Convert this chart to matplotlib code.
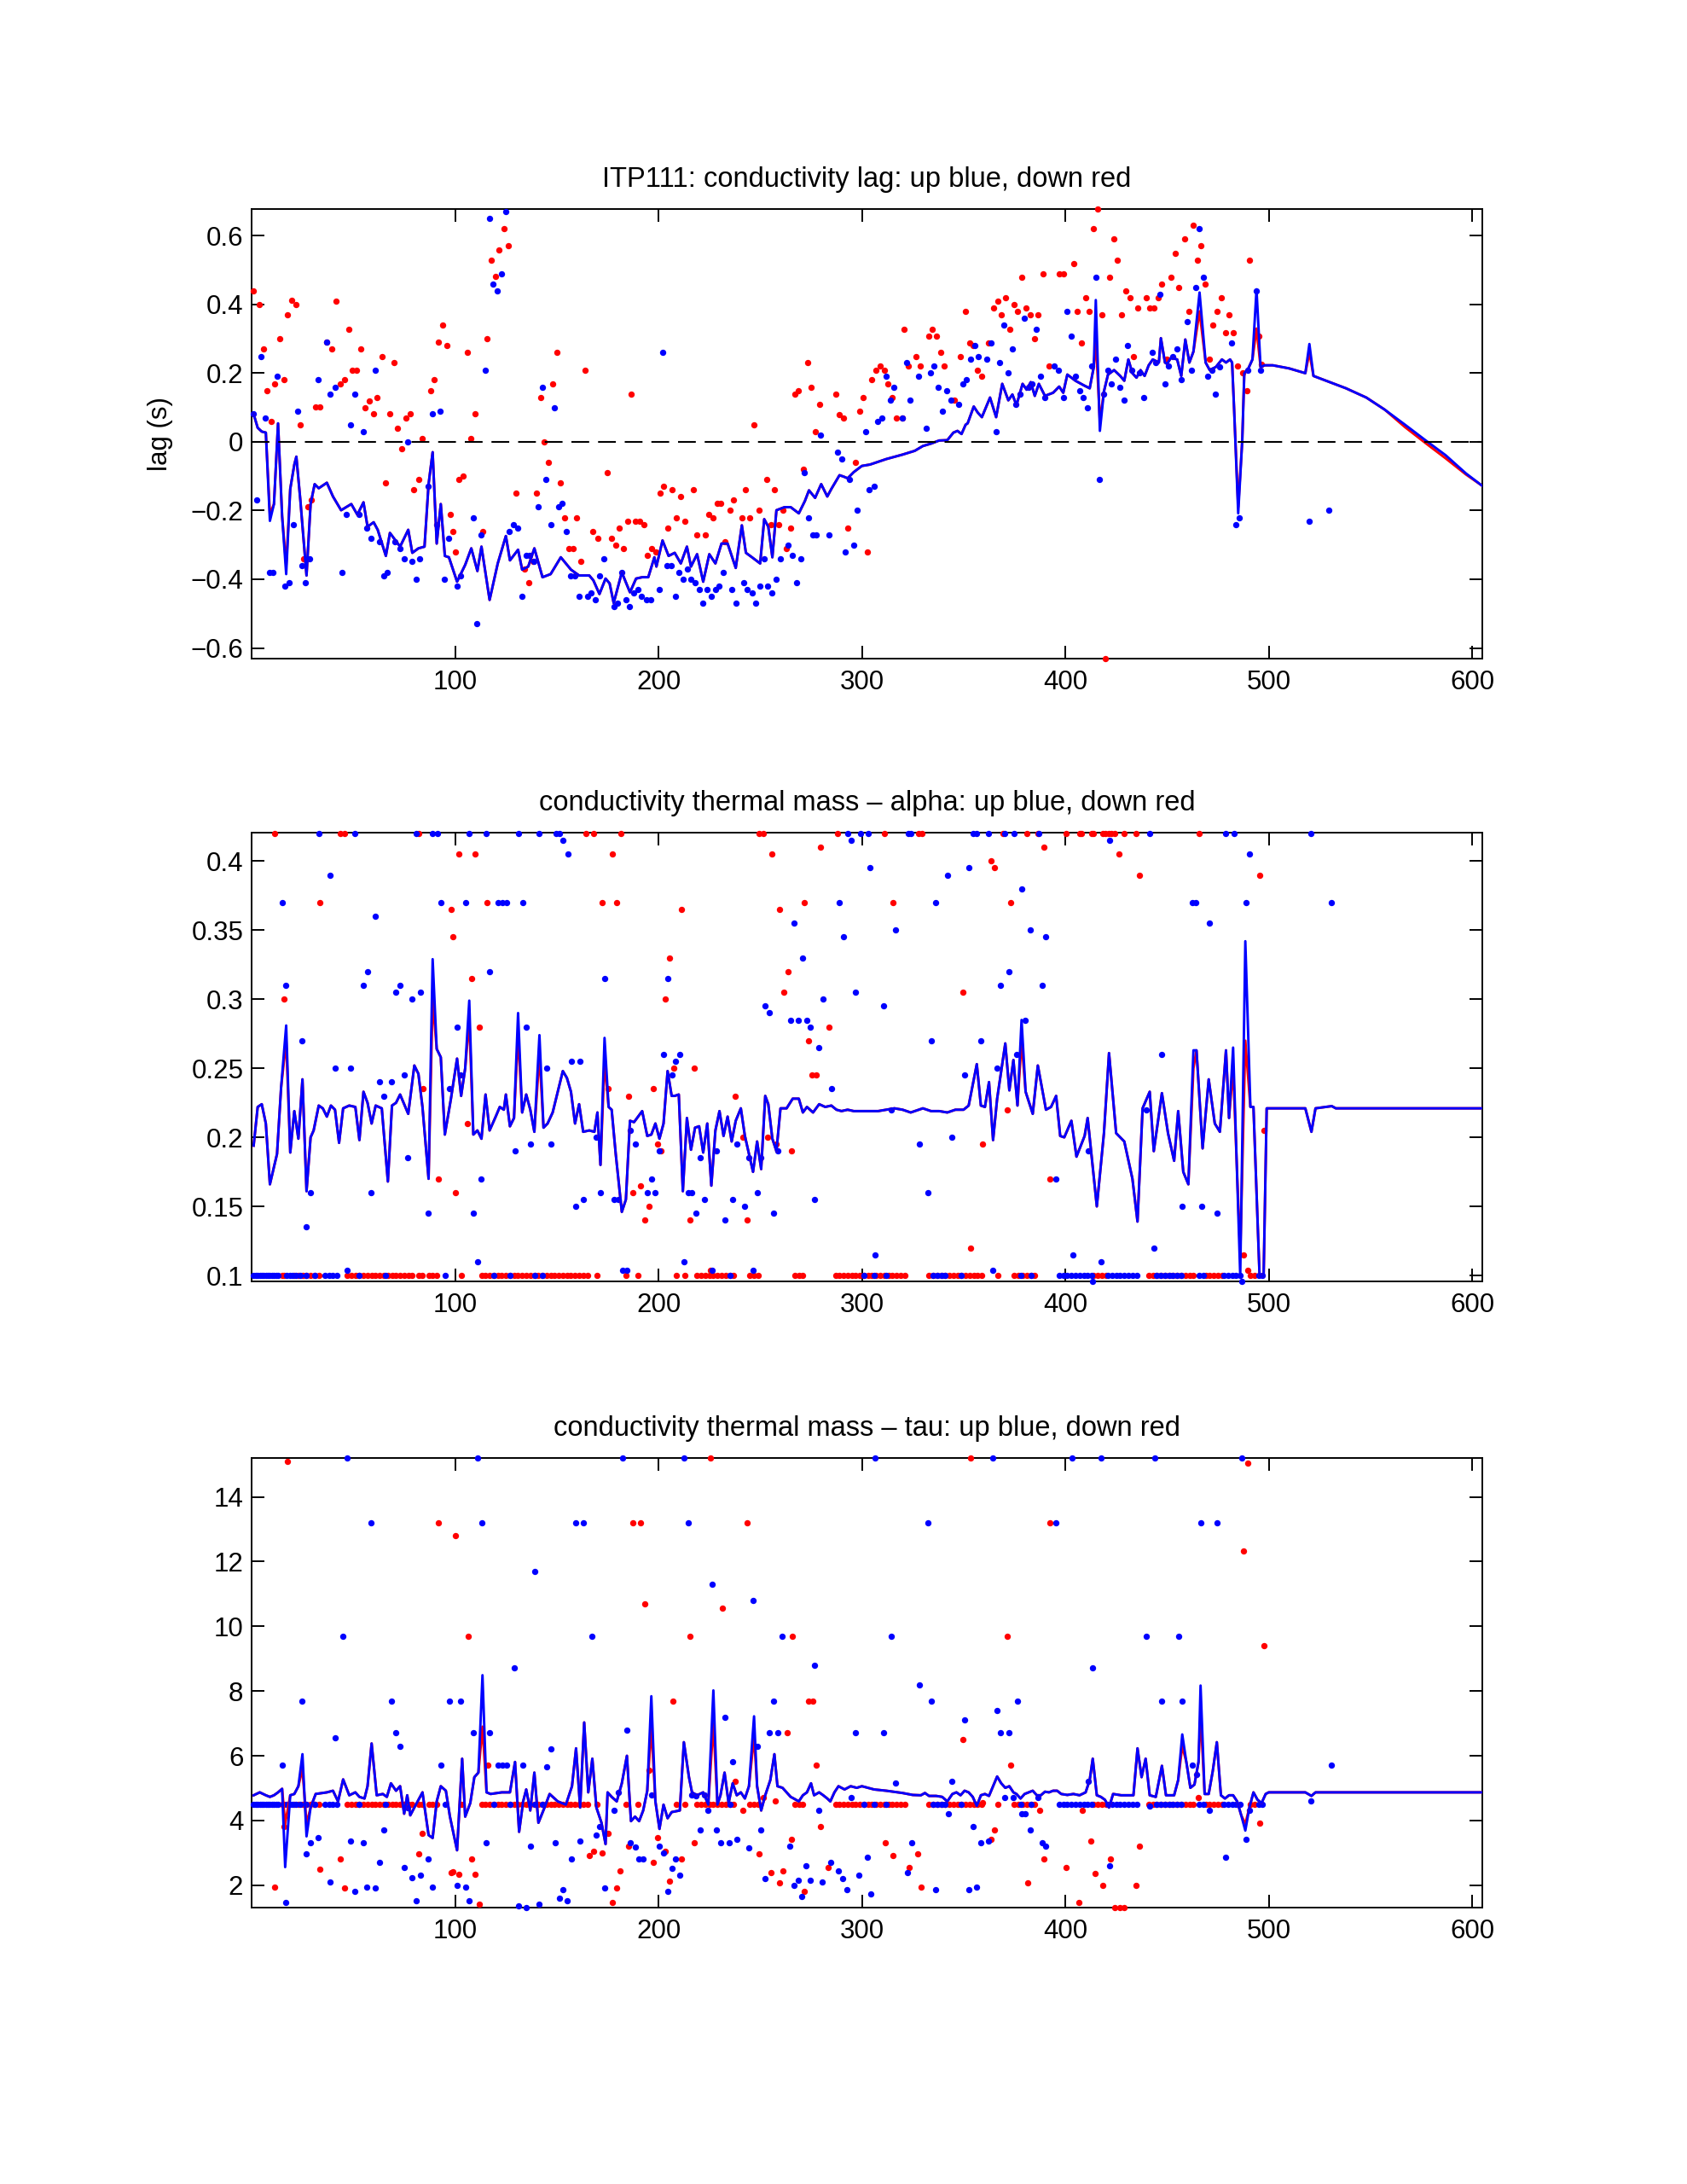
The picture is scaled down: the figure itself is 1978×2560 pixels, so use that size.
import matplotlib
matplotlib.use('Agg')
import matplotlib.pyplot as plt

plt.rcParams['font.family'] = ['Liberation Sans', 'DejaVu Sans']
FS = 22.5
FS_TITLE = 23.5

# ---------------- data ----------------
profiles_ticks = [100, 200, 300, 400, 500, 600]

lag_up_line = [(1,0.081),(3,0.041),(5,0.030),(7,0.027),(9,-0.230),(11,-0.181),(13,0.054),(15,-0.216),(17,-0.385),(19,-0.137),(21,-0.066),(22,-0.043),(24,-0.172),(27,-0.389),(29,-0.181),(31,-0.123),(33,-0.135),(37,-0.119),(40,-0.159),(44,-0.199),(49,-0.181),(52,-0.212),(55,-0.176),(57,-0.247),(60,-0.234),(62,-0.256),(66,-0.332),(68,-0.265),(73,-0.305),(77,-0.256),(79,-0.323),(82,-0.310),(85,-0.305),(87,-0.123),(89,-0.030),(91,-0.296),(93,-0.181),(95,-0.332),(97,-0.336),(101,-0.407),(105,-0.358),(108,-0.310),(111,-0.376),(113,-0.305),(117,-0.460),(121,-0.354),(125,-0.274),(127,-0.345),(131,-0.314),(133,-0.372),(136,-0.363),(139,-0.310),(143,-0.394),(147,-0.385),(152,-0.336),(157,-0.372),(161,-0.389),(166,-0.389),(168,-0.403),(171,-0.443),(174,-0.398),(176,-0.412),(178,-0.469),(182,-0.380),(186,-0.438),(189,-0.398),(192,-0.394),(195,-0.394),(198,-0.336),(199,-0.363),(202,-0.287),(205,-0.332),(208,-0.323),(211,-0.354),(214,-0.305),(216,-0.363),(219,-0.327),(222,-0.407),(225,-0.327),(228,-0.354),(231,-0.296),(234,-0.296),(238,-0.367),(241,-0.243),(243,-0.323),(246,-0.336),(250,-0.354),(252,-0.225),(254,-0.247),(256,-0.336),(258,-0.199),(262,-0.190),(265,-0.190),(269,-0.208),(272,-0.172),(274,-0.141),(277,-0.163),(280,-0.123),(283,-0.159),(285,-0.137),(289,-0.097),(291,-0.101),(293,-0.106),(296,-0.088),(300,-0.070),(304,-0.066),(312,-0.050),(320,-0.037),(326,-0.026),(330,-0.012),(334,-0.005),(338,0.004),(342,0.005),(345,0.027),(347,0.032),(349,0.023),(351,0.050),(352,0.054),(355,0.103),(357,0.085),(359,0.072),(363,0.129),(366,0.072),(369,0.169),(372,0.121),(374,0.138),(376,0.107),(379,0.169),(381,0.152),(383,0.174),(385,0.134),(387,0.169),(390,0.134),(394,0.143),(397,0.161),(399,0.143),(401,0.196),(405,0.178),(409,0.165),(412,0.156),(414,0.218),(415,0.413),(417,0.032),(419,0.147),(421,0.196),(424,0.209),(427,0.192),(429,0.178),(431,0.240),(433,0.200),(435,0.187),(437,0.209),(439,0.192),(441,0.223),(443,0.240),(446,0.231),(447,0.302),(449,0.231),(450,0.227),(452,0.245),(455,0.240),(457,0.192),(459,0.298),(461,0.231),(463,0.263),(466,0.435),(469,0.231),(471,0.209),(474,0.218),(477,0.240),(479,0.231),(481,0.240),(482,0.231),(483,0.094),(485,-0.208),(487,0.005),(488,0.200),(490,0.214),(492,0.240),(494,0.444),(496,0.218),(498,0.223),(502,0.223),(510,0.214),(518,0.200),(520,0.285),(522,0.192),(530,0.174),(538,0.156),(548,0.129),(557,0.094),(567,0.050),(577,0.005),(587,-0.039),(597,-0.092),(605,-0.128)]
lag_down_line_changes = [(9,-0.21),(17,-0.36),(415,0.30),(417,0.06),(466,0.38),(485,-0.19),(494,0.33),(520,0.26),(567,0.043),(577,-0.003),(587,-0.048),(597,-0.095)]

lag_down_pts = [(1,0.440),(3.7,0.400),(5.7,0.271),(7.6,0.150),(9.6,0.060),(11.5,0.169),(13.9,0.301),(15.9,0.180),(17.8,0.371),(19.8,0.411),(21.7,0.400),(23.7,0.050),(25.6,-0.341),(27.6,-0.190),(29.5,-0.169),(31.5,0.101),(33.5,0.101),(37,0.290),(39.5,0.270),(41.7,0.409),(43.8,0.169),(45.8,0.180),(47.7,0.329),(49.3,0.209),(51.7,0.209),(53.8,0.270),(55.8,0.100),(57.9,0.120),(60.1,0.081),(61.8,0.129),(64,0.249),(66,-0.120),(67.9,0.081),(69.9,0.230),(71.8,0.040),(74,-0.020),(75.9,0.070),(77.9,0.081),(79.8,-0.140),(82,-0.110),(84,0.010),(87.9,0.150),(89.8,0.180),(92,0.290),(93.9,0.340),(95.9,0.280),(97.8,-0.210),(99,-0.260),(100,-0.320),(102,-0.110),(103.9,-0.099),(105.9,0.260),(107.8,0.010),(109.8,0.081),(113.7,-0.260),(115.9,0.301),(117.8,0.530),(119.8,0.481),(121.7,0.560),(123.9,0.620),(126,0.570),(130.1,-0.150),(134.2,-0.371),(136.2,-0.410),(138.2,-0.349),(140.1,-0.150),(142.1,0.129),(144,0.000),(146,-0.060),(147.9,0.170),(149.9,0.260),(151.9,-0.120),(153.8,-0.220),(156,-0.310),(157.9,-0.310),(159.9,-0.220),(161.8,-0.349),(163.8,0.209),(167.7,-0.260),(170.1,-0.280),(174.9,-0.090),(176.9,-0.280),(178.9,-0.300),(180.8,-0.250),(182.8,-0.310),(184.7,-0.230),(186.7,0.139),(188.8,-0.230),(190.8,-0.230),(192.8,-0.240),(194.7,-0.330),(196.7,-0.310),(198.6,-0.320),(200.8,-0.150),(202.7,-0.130),(204.7,-0.250),(206.7,-0.140),(209,-0.220),(211,-0.160),(212.9,-0.230),(217,-0.140),(219,-0.270),(222.9,-0.270),(224.9,-0.210),(226.8,-0.220),(228.8,-0.180),(230.7,-0.180),(232.7,-0.290),(235,-0.200),(237,-0.169),(240.9,-0.220),(242.9,-0.140),(244.8,-0.220),(246.8,0.050),(249.3,-0.200),(253.2,-0.110),(255.2,-0.240),(257.1,-0.140),(259.1,-0.240),(261.1,-0.200),(263,-0.310),(265,-0.250),(266.9,0.140),(268.9,0.150),(271.2,-0.080),(273.2,0.230),(275.1,0.160),(277.1,0.030),(279.1,0.110),(287.1,0.140),(289,0.080),(291,0.070),(293,-0.250),(296.9,-0.060),(298.8,0.090),(300.8,0.129),(302.7,-0.320),(304.7,0.180),(306.9,0.209),(308.9,0.220),(310.9,0.209),(312.9,0.169),(314.9,0.129),(316.8,0.070),(319.8,0.070),(320.8,0.329),(322.8,0.220),(326.7,0.249),(328.7,0.220),(332.7,0.309),(334.7,0.329),(336.6,0.309),(338.6,0.260),(340.6,0.220),(345.5,0.121),(348.5,0.249),(350.9,0.380),(352.9,0.289),(354.9,0.280),(356.8,0.209),(358.8,0.190),(362.4,0.289),(364.8,0.389),(366.7,0.409),(368.7,0.369),(370.7,0.420),(372.7,0.329),(374.7,0.400),(376.6,0.380),(378.6,0.480),(380.6,0.389),(382.6,0.369),(385,0.300),(386.5,0.369),(388.9,0.490),(392.1,0.220),(397,0.490),(399,0.490),(404,0.520),(405.9,0.380),(407.9,0.289),(409.9,0.420),(411.9,0.380),(413.9,0.620),(415.8,0.679),(417.8,0.369),(419.8,-0.631),(421.8,0.480),(423.8,0.591),(425.7,0.530),(427.7,0.369),(429.7,0.440),(431.7,0.420),(433.7,0.249),(435.6,0.389),(439.6,0.420),(441.6,0.389),(443.6,0.389),(445.5,0.420),(447.5,0.459),(449.9,0.240),(451.9,0.480),(453.9,0.550),(455.8,0.450),(458.8,0.591),(460.8,0.380),(462.8,0.630),(464.8,0.530),(466.7,0.570),(468.7,0.459),(470.7,0.240),(472.7,0.340),(474.7,0.380),(476.6,0.420),(478.6,0.319),(480.6,0.369),(482.6,0.319),(484.6,0.220),(487.1,0.200),(489.1,0.150),(490.7,0.530),(495,0.309),(496.4,0.227)]

lag_up_pts = [(1,0.081),(2.7,-0.170),(4.7,0.249),(6.7,0.070),(8.6,-0.380),(10.6,-0.380),(12.5,0.190),(16.4,-0.420),(18.4,-0.410),(20.7,-0.240),(22.7,0.090),(24.7,-0.360),(26.6,-0.410),(28.6,-0.341),(32.9,0.180),(37,0.290),(38.7,0.139),(40.9,0.160),(44.6,-0.380),(46.6,-0.210),(48.7,0.050),(50.7,0.139),(52.8,-0.210),(54.8,0.030),(56.8,-0.250),(58.7,-0.280),(60.9,0.209),(62.8,-0.290),(64.8,-0.390),(66.7,-0.380),(70.6,-0.290),(73,-0.310),(75,-0.341),(76.7,0.000),(78.9,-0.349),(81,-0.400),(82.8,-0.341),(86.9,-0.130),(88.8,0.081),(90.8,-0.240),(92.8,0.090),(94.7,-0.400),(96.7,-0.280),(101,-0.420),(102.9,-0.390),(108.8,-0.220),(110.8,-0.530),(112.7,-0.270),(114.9,0.209),(116.8,0.650),(118.8,0.460),(120.7,0.440),(122.9,0.490),(124.9,0.670),(126.8,-0.260),(128.8,-0.240),(130.9,-0.250),(132.9,-0.450),(134.8,-0.330),(136.8,-0.330),(138.7,-0.349),(140.9,-0.190),(142.9,0.160),(144.8,-0.110),(147,-0.240),(148.9,0.100),(150.9,-0.190),(152.8,-0.180),(154.8,-0.260),(156.9,-0.390),(158.9,-0.390),(161.1,-0.450),(165,-0.450),(166.9,-0.440),(169.1,-0.460),(171,-0.390),(173,-0.341),(178.1,-0.480),(180,-0.469),(182,-0.380),(184,-0.460),(185.9,-0.480),(187.9,-0.440),(189.8,-0.429),(191.8,-0.450),(194.1,-0.460),(196.1,-0.460),(200.2,-0.430),(202.2,0.260),(204.1,-0.360),(206.1,-0.360),(208.2,-0.450),(210.2,-0.380),(212.1,-0.400),(214.1,-0.371),(216,-0.400),(218,-0.410),(220,-0.430),(221.9,-0.469),(223.9,-0.430),(226,-0.450),(228,-0.430),(229.9,-0.420),(231.9,-0.380),(236,-0.430),(238,-0.469),(241.9,-0.410),(243.8,-0.430),(246,-0.440),(247.9,-0.469),(249.9,-0.420),(251.9,-0.341),(253.8,-0.420),(255.8,-0.440),(257.9,-0.400),(259.9,-0.341),(263.8,-0.300),(265.8,-0.330),(267.9,-0.410),(269.9,-0.341),(271.8,-0.090),(273.8,-0.220),(275.7,-0.270),(277.7,-0.270),(279.6,0.020),(284,-0.270),(288.1,-0.030),(290,-0.050),(292,-0.320),(293.9,-0.110),(295.9,-0.300),(297.8,-0.200),(301.8,0.030),(303.7,-0.140),(305.9,-0.130),(307.9,0.060),(309.9,0.070),(311.9,0.190),(313.9,0.121),(315.8,0.160),(319.8,0.070),(321.8,0.230),(323.8,0.121),(327.7,0.190),(331.7,0.039),(333.7,0.200),(335.6,0.220),(337.6,0.160),(339.6,0.090),(341.6,0.150),(343.6,0.121),(347.5,0.110),(349.5,0.170),(351.5,0.180),(353.5,0.240),(355.4,0.280),(357.4,0.249),(361.4,0.240),(363.4,0.289),(365.9,0.030),(367.9,0.230),(369.9,0.340),(371.9,0.200),(373.9,0.270),(375.8,0.110),(377.8,0.140),(379.8,0.359),(381.8,0.160),(383.8,0.169),(385.7,0.329),(387.7,0.190),(390.1,0.129),(394.7,0.220),(396.6,0.209),(399,0.129),(401,0.380),(403,0.309),(405,0.190),(406.9,0.150),(408.9,0.129),(410.9,0.100),(412.9,0.220),(414.9,0.480),(416.8,-0.110),(418.8,0.140),(420.8,0.209),(422.8,0.169),(424.8,0.240),(426.7,0.160),(428.7,0.121),(430.7,0.280),(432.7,0.209),(436.6,0.200),(438.6,0.129),(442.6,0.260),(444.6,0.230),(446.7,0.429),(448.9,0.170),(450.9,0.220),(452.9,0.249),(454.9,0.270),(456.8,0.180),(460,0.349),(462,0.209),(464,0.450),(465.9,0.620),(467.9,0.480),(469.9,0.190),(471.9,0.209),(473.9,0.140),(475.8,0.218),(481.8,0.289),(483.8,-0.240),(485.7,-0.220),(489.7,0.209),(494.1,0.440),(496,0.209),(519.8,-0.231),(529.7,-0.200)]

alpha_up_line = [(1,0.194),(3,0.222),(5,0.224),(7,0.210),(9,0.166),(12.5,0.188),(14.5,0.236),(17,0.281),(19,0.189),(21,0.219),(23,0.199),(25,0.242),(27,0.161),(29,0.200),(30.5,0.205),(33,0.223),(35,0.221),(37,0.215),(39,0.223),(41,0.220),(43,0.196),(45,0.221),(48,0.223),(51,0.222),(53,0.198),(55,0.233),(57,0.225),(59,0.210),(61,0.223),(64,0.221),(67,0.168),(69,0.223),(71,0.225),(73,0.231),(75,0.224),(77,0.217),(80,0.252),(82,0.246),(84,0.222),(87,0.170),(89,0.329),(91,0.264),(93,0.258),(95,0.202),(98,0.228),(101,0.257),(103,0.230),(105,0.250),(107,0.299),(109,0.202),(111,0.205),(113,0.199),(115,0.231),(117,0.205),(120,0.215),(122,0.222),(124,0.220),(125,0.231),(127,0.208),(129,0.214),(131,0.290),(133,0.218),(135,0.231),(137,0.220),(139,0.204),(141.5,0.274),(143.5,0.207),(145.5,0.210),(148,0.218),(153,0.248),(155,0.243),(157,0.233),(159,0.210),(161,0.224),(163,0.204),(166,0.205),(168.5,0.204),(170,0.218),(171.5,0.180),(173.5,0.272),(175.5,0.222),(177,0.220),(179,0.188),(182,0.146),(184,0.155),(186,0.212),(188,0.211),(190,0.215),(192,0.219),(194.5,0.201),(196.5,0.202),(198.5,0.210),(200.5,0.199),(202.5,0.210),(204.5,0.248),(206.5,0.230),(208,0.230),(210,0.231),(212,0.161),(214,0.214),(216,0.191),(218,0.207),(220,0.208),(222,0.189),(224,0.210),(226,0.165),(228,0.205),(230,0.219),(232,0.201),(234,0.215),(236,0.197),(238,0.212),(240.5,0.221),(242.5,0.201),(244.5,0.188),(246.5,0.175),(248.5,0.197),(250.5,0.177),(252.5,0.230),(254,0.224),(256,0.199),(258,0.190),(260,0.221),(263,0.221),(266,0.228),(269,0.228),(271,0.218),(273,0.222),(276,0.218),(279,0.224),(282,0.222),(285,0.223),(287.5,0.220),(290,0.219),(293,0.220),(296,0.219),(300,0.219),(305,0.219),(308,0.219),(312,0.220),(316,0.221),(320,0.220),(324,0.218),(330,0.221),(334,0.219),(338,0.219),(342,0.218),(346,0.220),(350,0.220),(352.5,0.223),(356.5,0.253),(358.5,0.223),(360.5,0.222),(362.5,0.240),(364.5,0.198),(366.5,0.228),(370.5,0.268),(372.5,0.234),(374.5,0.256),(376.5,0.223),(378.5,0.285),(380.5,0.233),(384,0.217),(386.5,0.252),(390.5,0.220),(393,0.222),(395.5,0.230),(397.5,0.201),(399.5,0.200),(403,0.212),(405.5,0.186),(409.5,0.201),(411,0.214),(415.5,0.150),(419,0.203),(421.5,0.261),(425,0.203),(429,0.197),(433,0.170),(435.5,0.139),(438,0.221),(441.5,0.233),(443.5,0.190),(447.5,0.232),(450.5,0.203),(453.5,0.183),(455.5,0.219),(458,0.175),(460.5,0.166),(463,0.263),(464.5,0.263),(467.5,0.192),(470.5,0.242),(473.5,0.210),(476,0.204),(479,0.263),(480.5,0.214),(482.5,0.265),(486,0.0996),(488.5,0.342),(491,0.222),(492.5,0.222),(495.5,0.0996),(497.5,0.0996),(499,0.221),(518,0.221),(521,0.204),(523,0.221),(531,0.2226),(533,0.221),(605,0.221)]
alpha_down_line_changes = [(17,0.27),(89,0.30),(107,0.285),(131,0.275),(141.5,0.26),(173.5,0.255),(378.5,0.27),(463,0.25),(482.5,0.25),(486,0.115),(488.5,0.27)]

alpha_down_pts = [(15.9,0.300),(33.7,0.370),(84.1,0.235),(92,0.170),(98,0.365),(99,0.345),(100,0.160),(102,0.405),(106.1,0.210),(108,0.315),(110,0.405),(111.9,0.280),(115.9,0.370),(172.4,0.370),(175.3,0.235),(177.3,0.405),(179.5,0.370),(185.3,0.230),(187.3,0.160),(191.2,0.165),(193.2,0.140),(195.5,0.150),(197.5,0.235),(199.4,0.195),(201.4,0.190),(203.3,0.300),(205.3,0.330),(207.6,0.250),(211.5,0.365),(215.5,0.140),(217.4,0.250),(225.6,0.104),(237.6,0.230),(241.5,0.200),(243.4,0.140),(253.8,0.200),(255.8,0.405),(257.7,0.195),(259.7,0.365),(261.6,0.305),(263.6,0.320),(265.6,0.190),(271.8,0.370),(273.8,0.270),(275.3,0.245),(277.7,0.245),(279.8,0.410),(283.8,0.280),(315.4,0.370),(349.5,0.305),(353.5,0.120),(359.4,0.195),(363.4,0.400),(365.3,0.395),(371.3,0.220),(373.3,0.370),(389.5,0.410),(392.5,0.170),(426.5,0.405),(436.6,0.390),(487.7,0.115),(489.7,0.104),(495.6,0.390),(497.6,0.205),
                  (11.5,0.42),(43.8,0.42),(45.8,0.42),(82,0.42),(164.2,0.42),(168.1,0.42),(181.4,0.42),(249.3,0.42),(251.7,0.42),(288.1,0.42),(311.3,0.42),(327.7,0.42),(329.7,0.42),(369.3,0.42),(381.2,0.42),(386.5,0.42),(400.6,0.42),(406.9,0.42),(407.9,0.42),(412.9,0.42),(413.9,0.42),(418.4,0.42),(419.8,0.42),(421.2,0.42),(422.8,0.42),(424.4,0.42),(428.7,0.42),(434.7,0.42),(465.9,0.42)]

alpha_up_pts = [(14.9,0.370),(16.8,0.310),(24.7,0.270),(26.8,0.135),(28.8,0.160),(38.7,0.390),(40.9,0.250),(46.8,0.104),(48.7,0.250),(55,0.310),(56.9,0.320),(58.9,0.160),(60.9,0.360),(62.8,0.240),(65,0.230),(68.9,0.240),(71,0.305),(73,0.310),(75,0.245),(76.9,0.185),(78.9,0.300),(83,0.305),(86.9,0.145),(93,0.370),(97.1,0.235),(101,0.280),(102.9,0.245),(105.1,0.370),(109,0.145),(111,0.110),(112.9,0.170),(117,0.320),(121.3,0.370),(123.3,0.370),(125.2,0.370),(129.4,0.190),(133.3,0.370),(135.2,0.280),(137.2,0.195),(145.2,0.250),(147.2,0.195),(153.2,0.415),(155.4,0.405),(157.3,0.255),(159.3,0.150),(161.3,0.255),(163.2,0.155),(169.3,0.200),(171.4,0.160),(173.4,0.315),(178.3,0.155),(180.2,0.155),(182.4,0.104),(184.3,0.104),(186.3,0.205),(188.5,0.195),(194.5,0.160),(196.5,0.170),(198.4,0.160),(200.4,0.190),(202.5,0.260),(204.5,0.315),(206.5,0.245),(208.4,0.255),(210.4,0.260),(212.5,0.110),(214.5,0.160),(216.4,0.160),(218.4,0.145),(220.5,0.185),(222.5,0.155),(226.4,0.104),(228.6,0.190),(232.5,0.140),(236.4,0.155),(238.6,0.195),(242.5,0.150),(244.4,0.185),(246.4,0.104),(248.5,0.160),(250.5,0.185),(252.4,0.295),(254.6,0.290),(256.4,0.145),(258.7,0.190),(264.8,0.285),(266.7,0.355),(268.9,0.285),(270.8,0.330),(272.8,0.285),(274.8,0.280),(276.9,0.155),(278.9,0.265),(280.8,0.300),(284.9,0.235),(289,0.370),(291,0.345),(294.9,0.415),(296.9,0.305),(304.1,0.395),(306.5,0.115),(310.5,0.295),(314.5,0.220),(316.4,0.350),(328.3,0.195),(332.3,0.160),(334.3,0.270),(336.2,0.370),(342.2,0.390),(344.2,0.200),(350.5,0.245),(352.5,0.395),(358.4,0.270),(364.4,0.104),(366.3,0.250),(368.3,0.310),(372.3,0.320),(376.2,0.260),(378.6,0.380),(380.2,0.285),(382.6,0.350),(388.5,0.310),(390.5,0.345),(395.4,0.170),(403.6,0.115),(411.5,0.190),(413.5,0.096),(417.4,0.110),(421.6,0.415),(439.6,0.220),(443.6,0.120),(447.5,0.260),(457.6,0.150),(462.6,0.370),(464.2,0.370),(466.9,0.150),(470.7,0.355),(474.7,0.145),(486.7,0.096),(488.7,0.370),(490.7,0.405),(530.7,0.370),
                (33.1,0.42),(50.7,0.42),(81,0.42),(88.8,0.42),(91.4,0.42),(107,0.42),(115.3,0.42),(131.3,0.42),(141.3,0.42),(149.5,0.42),(151.5,0.42),(293,0.42),(299.2,0.42),(303.1,0.42),(322.8,0.42),(324.2,0.42),(354.5,0.42),(356.4,0.42),(362.4,0.42),(370.3,0.42),(374.7,0.42),(387.1,0.42),(441.6,0.42),(478.8,0.42),(482.8,0.42),(520.8,0.42)]

tau_up_line = [(1,4.78),(4,4.87),(7,4.78),(9,4.73),(11,4.78),(13,4.87),(15,4.98),(16.5,2.56),(19,4.78),(21,4.82),(23,5.06),(25,6.05),(27,3.51),(29,4.40),(31.5,4.82),(37,4.87),(40,4.92),(42.5,4.59),(45,5.27),(48,4.78),(51,4.87),(53,4.73),(55.5,4.68),(57,5.06),(59,6.38),(61.5,4.78),(64.5,4.82),(66.5,4.73),(68.5,5.15),(71,4.92),(73,5.06),(75,4.21),(76.5,4.78),(78,4.16),(80,4.40),(84,4.87),(87,3.55),(89,3.46),(91,4.59),(93,5.06),(95.5,4.92),(97.5,4.12),(101,3.08),(103.5,5.91),(105,4.12),(107.5,4.54),(109.5,5.34),(111.5,5.48),(113.5,8.49),(115.5,4.87),(117.5,4.82),(123,4.87),(127,4.87),(129.5,5.81),(131.5,3.65),(133.5,4.59),(135,4.96),(137,4.31),(139,5.48),(141,3.93),(144,4.40),(146.5,4.82),(150.5,4.59),(154.5,4.49),(157.5,5.06),(159.5,6.23),(161.5,4.40),(163.5,7.03),(165.5,4.87),(167.5,5.91),(169.5,4.40),(172,3.93),(174,3.27),(175,4.87),(177,4.73),(179.5,4.59),(182,5.15),(184.5,6.00),(186.5,3.98),(188.5,4.12),(190.5,3.98),(192.5,4.31),(194.5,4.92),(196.5,7.84),(198.5,4.59),(200.5,3.74),(202.5,4.49),(204.5,4.07),(206.5,4.26),(210.5,4.31),(212.5,6.42),(215,5.34),(216.5,4.87),(219,4.78),(222,4.87),(224.5,4.49),(227,8.02),(229,4.49),(230.5,4.78),(232.5,5.48),(234.5,4.54),(236.5,5.15),(238.5,4.78),(240.5,4.87),(242.5,4.68),(244.5,5.06),(247,7.22),(248.5,5.06),(250.5,4.31),(252.5,4.78),(255,5.25),(257,6.05),(258.5,5.06),(261,5.01),(263,4.87),(265,4.73),(266.5,4.68),(269,4.59),(271,4.78),(273,4.87),(275,5.15),(276.5,4.78),(279,4.87),(281,4.78),(283,4.68),(284.5,4.59),(286.5,4.87),(288.5,5.06),(291.5,4.96),(294.5,5.06),(297.5,5.01),(300,5.06),(306,4.96),(312,4.92),(320,4.85),(325,4.79),(329,4.78),(331,4.85),(333,4.76),(336.5,4.76),(339.5,4.73),(342,4.59),(344.5,4.82),(346.5,4.87),(348.5,4.78),(350.5,4.92),(352.5,4.87),(354.5,4.73),(356.5,4.45),(358.5,4.78),(360.5,4.82),(362.5,4.76),(364.5,5.06),(366.5,5.36),(368.5,5.15),(370.5,5.01),(372.5,5.06),(374.5,4.87),(376,4.82),(378,4.68),(380,4.82),(382,4.87),(384,4.92),(386,4.78),(388,4.78),(390,4.89),(392,4.87),(394,4.92),(396,4.92),(398,4.82),(401,4.79),(404,4.82),(407,4.78),(410,4.87),(412,5.25),(413.5,5.91),(415.5,4.78),(417.5,4.73),(419.5,4.64),(421.5,4.40),(423.5,4.82),(427.5,4.78),(431.5,4.78),(433.5,4.78),(435.5,6.23),(437.5,5.34),(439.5,5.91),(441.5,4.78),(444.5,4.73),(447.5,5.69),(449.5,4.78),(453.5,4.78),(455.5,5.25),(457.5,6.66),(459.5,5.81),(461.5,5.01),(463.5,5.11),(465.5,5.81),(466.5,8.17),(468.5,4.82),(470.5,4.82),(472.5,5.53),(474.5,6.42),(476.5,4.78),(478.5,4.68),(480.5,4.78),(482.5,4.78),(484.5,4.59),(486.5,4.16),(488.5,3.69),(490.5,4.40),(492.5,4.87),(494.5,4.64),(496.5,4.54),(498.5,4.82),(500,4.87),(518,4.87),(521,4.76),(523,4.87),(605,4.87)]
tau_down_line_changes = [(16.5,3.9),(25,5.6),(27,3.9),(113.5,6.9),(196.5,6.9),(227,7.0),(247,6.6),(457.5,6.3),(466.5,7.3),(488.5,3.9)]

tau_down_pts = [(11.5,1.95),(16,3.81),(33.7,2.50),(43.8,2.80),(45.8,1.91),(82,2.96),(84,3.60),(92,13.2),(98,2.38),(99,2.42),(100,12.8),(102,2.33),(106.3,9.7),(108,2.82),(110,2.33),(112.1,1.42),(116,5.72),(166.1,2.91),(168.3,3.05),(172.4,3.01),(175.1,3.60),(177.3,1.46),(179.3,1.91),(181.2,2.45),(185.3,3.20),(187.3,13.2),(191.2,13.2),(193.2,10.7),(195.5,5.56),(197.5,2.71),(199.4,3.46),(203.3,3.05),(205.3,2.14),(207.2,7.70),(211.4,2.82),(215.5,9.70),(217.4,3.32),(231.5,10.55),(237.6,5.20),(241.5,4.31),(243.4,13.2),(249.5,2.96),(251.5,4.70),(255.4,2.40),(257.5,4.61),(259.5,2.08),(261.4,2.45),(263.4,6.71),(265.4,3.41),(265.8,9.70),(271.6,1.81),(273.8,7.70),(275.7,7.70),(277.7,5.72),(279.6,3.81),(283.6,2.56),(311.5,3.32),(315.4,2.91),(323.4,2.56),(327.3,2.96),(329.3,1.95),(349.5,6.50),(359.4,4.56),(363.4,3.41),(365.3,3.71),(371.3,9.70),(373.3,5.72),(381.6,2.07),(387.5,4.31),(389.5,2.82),(392.5,13.2),(400.6,2.56),(406.5,1.46),(408.5,4.31),(412.5,3.36),(414.5,2.36),(418.4,2.00),(422.4,2.82),(424.4,1.31),(426.7,1.31),(428.7,1.31),(434.7,2.00),(436.6,3.20),(465.5,4.70),(487.7,12.34),(495.6,3.91),(497.6,9.41),
                (17.8,15.1),(225.4,15.2),(353.5,15.2),(489.7,15.05)]

tau_up_pts = [(14.9,5.72),(16.8,1.46),(24.7,7.70),(26.8,2.96),(28.8,3.32),(32.7,3.46),(38.7,2.11),(40.9,6.56),(44.8,9.70),(48.7,3.36),(50.7,1.81),(55,3.32),(56.8,1.95),(58.9,13.2),(60.9,1.91),(62.8,2.71),(64.8,3.71),(68.9,7.70),(71,6.71),(73,6.30),(75,2.56),(76.9,4.40),(78.9,2.22),(81,1.51),(83,2.31),(86.9,2.82),(88.8,1.95),(93,5.72),(97.1,7.70),(101,2.00),(102.9,7.70),(105.1,1.95),(107,1.51),(109,6.71),(113.1,13.2),(115.1,3.32),(117,6.71),(121.1,5.72),(123.3,5.72),(125.2,5.72),(129.2,8.71),(131.3,1.37),(133.3,5.72),(135.2,1.31),(137.2,3.20),(139.1,11.70),(141.3,1.41),(145.2,5.67),(147.2,6.21),(149.3,3.32),(151.3,1.60),(153.2,1.86),(155.2,1.51),(157.3,2.82),(159.3,13.2),(161.3,3.36),(163.2,13.2),(167.3,9.70),(169.3,3.55),(171.2,3.81),(173.4,1.91),(178.3,4.31),(180.4,4.87),(184.3,6.80),(186.3,3.32),(188.5,3.18),(190.4,2.82),(192.4,2.82),(196.7,4.79),(200.6,3.20),(202.5,3.01),(204.5,1.81),(206.5,2.52),(208.4,2.82),(210.6,2.31),(214.5,13.2),(216.4,4.79),(218.4,4.75),(220.5,3.71),(222.5,4.79),(224.5,4.31),(226.4,11.30),(228.6,3.71),(230.5,3.32),(232.7,7.20),(234.6,3.32),(236.6,5.81),(238.6,3.41),(244.4,3.16),(246.6,10.81),(248.5,6.30),(250.5,3.71),(252.4,2.21),(254.6,6.71),(256.6,7.70),(258.5,6.71),(260.7,9.70),(264.6,3.20),(266.7,2.00),(268.7,2.16),(270.6,1.65),(272.6,2.61),(274.6,2.16),(276.7,8.80),(278.7,4.31),(280.6,2.11),(284.5,2.71),(288.6,2.45),(290.6,2.21),(292.6,1.86),(294.7,4.70),(296.7,6.71),(298.6,2.31),(302.7,2.86),(304.4,1.72),(310.5,6.71),(314.5,9.70),(316.4,5.17),(322.4,2.40),(324.4,3.32),(328.3,8.20),(332.5,13.2),(334.3,7.70),(336.4,1.86),(342.4,4.21),(344.4,5.22),(350.5,7.11),(352.5,1.86),(354.5,3.81),(356.4,1.95),(358.4,3.32),(362.4,3.36),(366.3,7.41),(368.3,6.71),(370.3,4.70),(372.3,6.71),(374.5,4.70),(376.4,7.70),(378.4,4.21),(380.4,4.21),(382.6,3.71),(386.5,4.70),(388.5,3.32),(390.5,3.20),(395.4,13.2),(411.5,5.22),(413.5,8.71),(421.6,2.61),(439.6,9.70),(441.4,4.45),(447.5,7.70),(455.6,9.70),(457.6,7.70),(462.6,5.72),(464.6,5.42),(466.7,13.2),(470.7,4.31),(474.7,13.2),(478.6,2.86),(488.7,3.41),(490.7,4.31),(520.8,4.61),(530.7,5.72),
              (46.8,15.2),(111,15.2),(182.4,15.2),(212.5,15.2),(306.3,15.2),(364.4,15.2),(403.4,15.2),(417.6,15.2),(443.8,15.2),(486.7,15.2)]

# profiles where the fit fell back to its default value
down_fail_x = [15, 16, 21, 23, 25, 27, 29, 31, 33, 47, 49, 51, 53, 55, 57, 59, 61, 63, 65, 67, 69, 71, 73, 75, 77, 79, 82, 84, 87, 89, 91, 103, 113, 115, 117, 119, 121, 123, 125, 127, 129, 131, 133, 135, 137, 139, 141, 143, 145, 147, 149, 151, 153, 155, 157, 159, 161, 163, 165, 170, 184, 190, 209, 213, 219, 221, 223, 225, 227, 229, 231, 233, 235, 237, 245, 247, 249, 267, 269, 271, 287, 289, 291, 293, 295, 297, 299, 301, 303, 305, 307, 309, 311, 313, 315, 317, 319, 321, 333, 335, 337, 339, 341, 343, 345, 347, 349, 351, 353, 355, 357, 359, 367, 375, 377, 379, 381, 383, 385, 414, 416, 418, 420, 441, 443, 445, 447, 449, 451, 453, 455, 457, 459, 461, 463, 469, 471, 473, 475, 477, 491, 493]
up_fail_x = [1, 2, 3, 4, 5, 6, 7, 8, 9, 10, 11, 12, 13, 17, 19, 20, 22, 24, 27, 31, 36, 38, 40, 42, 53, 66, 95, 119, 127, 139, 143, 235, 301, 306, 312, 335, 337, 339, 341, 349, 378, 383, 397, 399, 401, 403, 405, 407, 409, 411, 413, 421, 423, 425, 427, 429, 431, 433, 435, 445, 447, 449, 451, 453, 455, 457, 466, 468, 478, 480, 482, 484, 486, 495, 497]
alpha_fail_value = 0.1
tau_fail_value = 4.5

titles = ['ITP111: conductivity lag: up blue, down red',
          'conductivity thermal mass \u2013 alpha: up blue, down red',
          'conductivity thermal mass \u2013 tau: up blue, down red']

# ---------------- drawing ----------------
RED = (1.0, 0.0, 0.0)
BLUE = (0.0, 0.0, 1.0)
MS = 5.3
LW = 2.1


def with_changes(base, changes):
    d = dict(changes)
    return [(x, d.get(x, y)) for x, y in base]


def unzip(pairs):
    return [p[0] for p in pairs], [p[1] for p in pairs]


W, H = 1978, 2560
fig = plt.figure(figsize=(W / 100, H / 100), dpi=100)
fig.patch.set_facecolor('white')


def axes_px(l, t, r, b):
    return fig.add_axes([l / W, 1 - b / H, (r - l) / W, (b - t) / H])


ax1 = axes_px(295, 245, 1738, 772)
ax2 = axes_px(295, 976, 1738, 1502)
ax3 = axes_px(295, 1709, 1738, 2236)


def dots(ax, pts, color):
    x, y = unzip(pts)
    ax.plot(x, y, 'o', color=color, ms=MS, mew=0, ls='none', clip_on=False, zorder=3)


def row(ax, xs, val, color):
    ax.plot(xs, [val] * len(xs), 'o', color=color, ms=MS, mew=0, ls='none', clip_on=False, zorder=3)


def lines(ax, up_line, changes):
    x, y = unzip(with_changes(up_line, changes))
    ax.plot(x, y, '-', color=RED, lw=LW, zorder=4)
    x, y = unzip(up_line)
    ax.plot(x, y, '-', color=BLUE, lw=LW, zorder=5)


def style(ax, ylim, yticks, ylabels, title):
    ax.set_xlim(0, 605)
    ax.set_ylim(*ylim)
    ax.set_xticks(profiles_ticks)
    ax.set_xticklabels([str(v) for v in profiles_ticks])
    ax.set_yticks(yticks)
    ax.set_yticklabels(ylabels)
    ax.tick_params(direction='in', length=11, width=1.4, top=True, right=True,
                   labelsize=FS, colors='black')
    ax.tick_params(axis='x', pad=9)
    ax.tick_params(axis='y', pad=7)
    for s in ax.spines.values():
        s.set_linewidth(1.4)
    ax.set_title(title, fontsize=FS_TITLE, pad=19)


# panel 1
dots(ax1, lag_down_pts, RED)
dots(ax1, lag_up_pts, BLUE)
lines(ax1, lag_up_line, lag_down_line_changes)
ax1.plot([0, 605], [0, 0], color='black', lw=1.5, ls=(0, (10, 5)), zorder=6)
style(ax1, (-0.631, 0.678), [-0.6, -0.4, -0.2, 0, 0.2, 0.4, 0.6],
      ['\u22120.6', '\u22120.4', '\u22120.2', '0', '0.2', '0.4', '0.6'], titles[0])
ax1.set_ylabel('lag (s)', fontsize=FS)
ax1.yaxis.set_label_coords(-0.064, 0.5)

# panel 2
row(ax2, down_fail_x, alpha_fail_value, RED)
dots(ax2, alpha_down_pts, RED)
row(ax2, up_fail_x, alpha_fail_value, BLUE)
dots(ax2, alpha_up_pts, BLUE)
lines(ax2, alpha_up_line, alpha_down_line_changes)
style(ax2, (0.0957, 0.4206), [0.1, 0.15, 0.2, 0.25, 0.3, 0.35, 0.4],
      ['0.1', '0.15', '0.2', '0.25', '0.3', '0.35', '0.4'], titles[1])

# panel 3
row(ax3, down_fail_x, tau_fail_value, RED)
dots(ax3, tau_down_pts, RED)
row(ax3, up_fail_x, tau_fail_value, BLUE)
dots(ax3, tau_up_pts, BLUE)
lines(ax3, tau_up_line, tau_down_line_changes)
style(ax3, (1.31, 15.2), [2, 4, 6, 8, 10, 12, 14],
      ['2', '4', '6', '8', '10', '12', '14'], titles[2])

fig.savefig('out.png', dpi=100, facecolor='white')
